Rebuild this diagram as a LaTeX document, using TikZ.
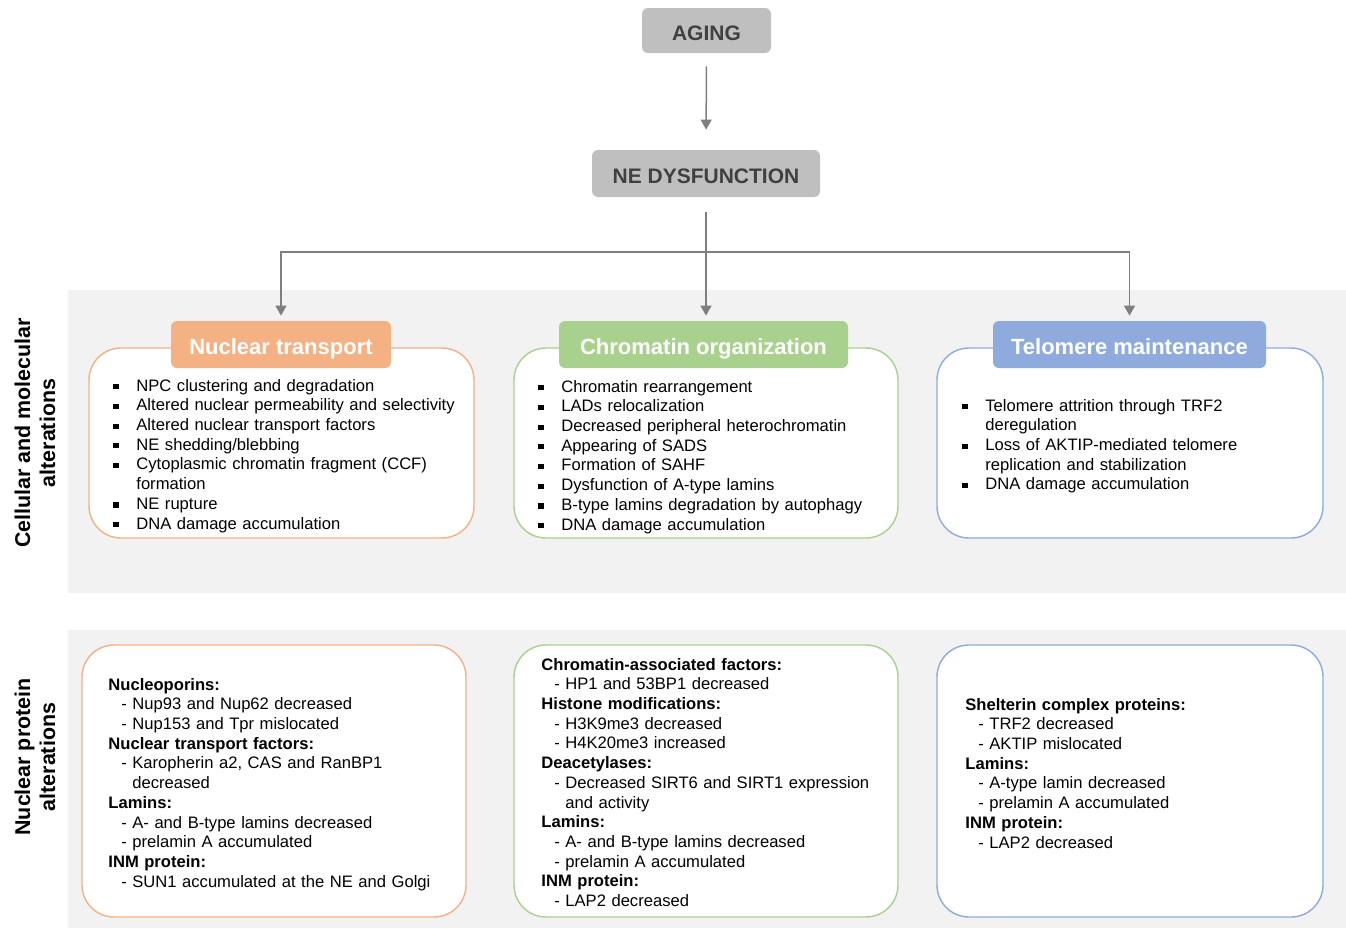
\documentclass[tikz,border=0pt]{standalone}
\usepackage{fontspec}
\setmainfont{Liberation Sans}
\usetikzlibrary{arrows.meta}
\definecolor{bandgray}{HTML}{F2F2F2}
\definecolor{boxgray}{HTML}{BFBFBF}
\definecolor{textgray}{HTML}{404040}
\definecolor{linegray}{HTML}{7F7F7F}
\definecolor{ntorange}{HTML}{F4B183}
\definecolor{cogreen}{HTML}{A9D18E}
\definecolor{tmblue}{HTML}{8FAADC}
\tikzset{
topbox/.style={fill=boxgray, rounded corners=3pt, text=textgray,
    text height=10pt, text depth=0.5pt,
    font=\bfseries\fontsize{10.5}{12}\selectfont, inner sep=0pt},
panel/.style={draw, fill=white, line width=0.7pt, rounded corners=16pt,
    inner sep=0pt},
header/.style={rounded corners=3pt, text=white, minimum height=23.5pt,
    text height=10pt, text depth=0.5pt,
    font=\bfseries\fontsize{11}{13}\selectfont, inner sep=0pt},
itemlist/.style={anchor=north west, inner sep=0pt, text width=180pt,
    align=left, font=\fontsize{8.3}{9.85}\selectfont},
sidelabel/.style={rotate=90, align=center,
    font=\bfseries\fontsize{10.7}{12.5}\selectfont},
link/.style={linegray, line width=0.75pt},
arrowlink/.style={link, -{Triangle[width=5.5pt,length=5pt]}}
}
\newcommand{\sqitem}{\par\hangindent=11.5pt\noindent\strut
  \makebox[11.5pt][l]{\rule[0.9pt]{2.6pt}{2.6pt}}}
\newcommand{\dashitem}{\par\hangindent=12pt\noindent\strut
  \makebox[12pt][l]{\hspace{6.5pt}-}}
\newcommand{\grouphead}[1]{\par\noindent\strut\textbf{#1}}

\begin{document}
\begin{tikzpicture}[x=0.5pt, y=-0.5pt]
	\useasboundingbox (0,0) rectangle (1346,928);
	\fill[bandgray] (68,290) rectangle (1346,593);
	\fill[bandgray] (68,630) rectangle (1346,928);

	\node[topbox, minimum width=64.5pt, minimum height=22.5pt] (aging) at (706.5,30.5) {AGING};
	\node[topbox, minimum width=114pt, minimum height=23.5pt] (nedys) at (706,173.5) {NE DYSFUNCTION};
	\coordinate (split) at (706,252);

	\node[sidelabel] (celllabel) at (35,433) {Cellular and molecular\\alterations};
	\node[sidelabel] (protlabel) at (35,757) {Nuclear protein\\alterations};

	% upper row
	\node[panel, draw=ntorange, minimum width=192.5pt, minimum height=95pt] (transbox) at (281.5,443) {};
	\node[header, fill=ntorange, minimum width=110pt] (transhead) at (281,344.5) {Nuclear transport};
	\node[itemlist] (translist) at (113,371) {
		\sqitem NPC clustering and degradation
		\sqitem Altered nuclear permeability and selectivity
		\sqitem Altered nuclear transport factors
		\sqitem NE shedding/blebbing
		\sqitem Cytoplasmic chromatin fragment (CCF)\newline formation
		\sqitem NE rupture
		\sqitem DNA damage accumulation};

	\node[panel, draw=cogreen, minimum width=192pt, minimum height=95pt] (chrombox) at (706,443) {};
	\node[header, fill=cogreen, minimum width=144.5pt] (chromhead) at (703.5,344.5) {Chromatin organization};
	\node[itemlist] (chromlist) at (538,372) {
		\sqitem Chromatin rearrangement
		\sqitem LADs relocalization
		\sqitem Decreased peripheral heterochromatin
		\sqitem Appearing of SADS
		\sqitem Formation of SAHF
		\sqitem Dysfunction of A-type lamins
		\sqitem B-type lamins degradation by autophagy
		\sqitem DNA damage accumulation};

	\node[panel, draw=tmblue, minimum width=193pt, minimum height=95pt] (telobox) at (1130,443) {};
	\node[header, fill=tmblue, minimum width=136.5pt] (telohead) at (1129.5,344.5) {Telomere maintenance};
	\node[itemlist] (telolist) at (962,391) {
		\sqitem Telomere attrition through TRF2\newline deregulation
		\sqitem Loss of AKTIP-mediated telomere\newline replication and stabilization
		\sqitem DNA damage accumulation};

	% lower row
	\node[panel, draw=ntorange, minimum width=192pt, minimum height=136pt] (protbox1) at (274,781) {};
	\node[itemlist] (protlist1) at (108,670) {
		\grouphead{Nucleoporins:}
		\dashitem Nup93 and Nup62 decreased
		\dashitem Nup153 and Tpr mislocated
		\grouphead{Nuclear transport factors:}
		\dashitem Karopherin a2, CAS and RanBP1\newline decreased
		\grouphead{Lamins:}
		\dashitem A- and B-type lamins decreased
		\dashitem prelamin A accumulated
		\grouphead{INM protein:}
		\dashitem SUN1 accumulated at the NE and Golgi};

	\node[panel, draw=cogreen, minimum width=192pt, minimum height=136pt] (protbox2) at (706,781) {};
	\node[itemlist] (protlist2) at (541,650) {
		\grouphead{Chromatin-associated factors:}
		\dashitem HP1 and 53BP1 decreased
		\grouphead{Histone modifications:}
		\dashitem H3K9me3 decreased
		\dashitem H4K20me3 increased
		\grouphead{Deacetylases:}
		\dashitem Decreased SIRT6 and SIRT1 expression\newline and activity
		\grouphead{Lamins:}
		\dashitem A- and B-type lamins decreased
		\dashitem prelamin A accumulated
		\grouphead{INM protein:}
		\dashitem LAP2 decreased};

	\node[panel, draw=tmblue, minimum width=193pt, minimum height=136pt] (protbox3) at (1130,781) {};
	\node[itemlist] (protlist3) at (965,690) {
		\grouphead{Shelterin complex proteins:}
		\dashitem TRF2 decreased
		\dashitem AKTIP mislocated
		\grouphead{Lamins:}
		\dashitem A-type lamin decreased
		\dashitem prelamin A accumulated
		\grouphead{INM protein:}
		\dashitem LAP2 decreased};

	\draw[arrowlink, shorten <=6.5pt, shorten >=10pt] (aging) -- (nedys);
	\draw[link, shorten <=7.5pt] (nedys) -- (split);
	\draw[arrowlink, shorten >=2.5pt] (split) -- (split |- chromhead.north);
	\draw[arrowlink, shorten >=2.5pt] (split) -| (transhead.north);
	\draw[arrowlink, shorten >=2.5pt] (split) -| (telohead.north);
\end{tikzpicture}
\end{document}
